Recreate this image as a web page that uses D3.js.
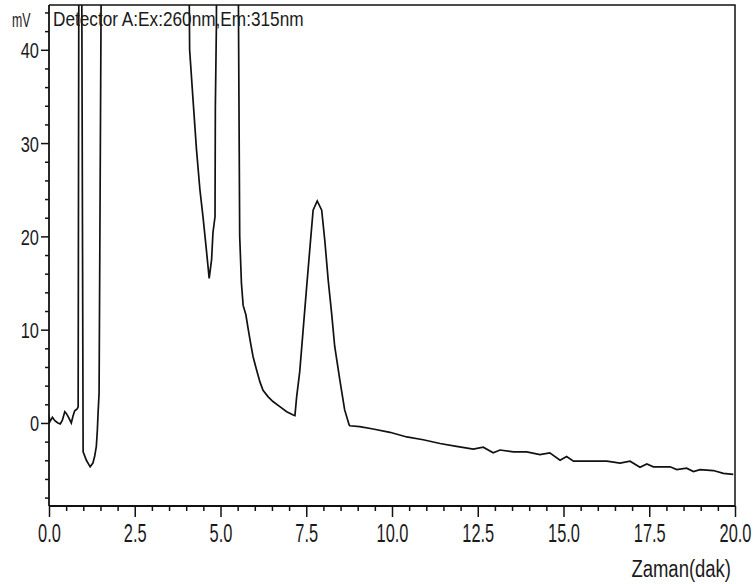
<!DOCTYPE html>
<html>
<head>
<meta charset="utf-8">
<script src="https://cdn.jsdelivr.net/npm/d3@7"></script>
<style>
  html, body { margin: 0; padding: 0; background: #fff; }
  svg text { font-family: "Liberation Sans", Arial, sans-serif; fill: #1a1a1a; }
</style>
</head>
<body>
<div id="chart"></div>
<script>
// chromatogram trace, time in minutes and signal in mV (60 = off scale)
const timeMin = [0, 0.02, 0.10, 0.17, 0.26, 0.33, 0.39, 0.46, 0.51, 0.57, 0.65, 0.70, 0.75, 0.82, 0.85,
  0.875, 0.945, 0.995, 1.09, 1.20, 1.28, 1.33, 1.38, 1.41, 1.43, 1.46, 1.54,
  4.06, 4.10, 4.20, 4.30, 4.40, 4.49, 4.59, 4.67, 4.74, 4.78, 4.84, 4.85, 4.88, 4.90,
  5.50, 5.54, 5.56, 5.61, 5.66, 5.74, 5.81, 5.88, 5.95, 6.05, 6.15, 6.24, 6.39, 6.53, 6.73, 6.93, 7.12, 7.17,
  7.22, 7.31, 7.41, 7.51, 7.61, 7.70, 7.82, 7.95, 8.04, 8.14, 8.24, 8.33, 8.48, 8.62, 8.75,
  8.77, 9.06, 9.45, 9.94, 10.43, 10.91, 11.40, 11.88, 12.37, 12.66, 12.95, 13.15, 13.54, 13.93,
  14.31, 14.60, 14.90, 15.09, 15.29, 15.77, 16.26, 16.65, 16.94, 17.23, 17.43, 17.62, 18.11,
  18.30, 18.59, 18.79, 18.98, 19.37, 19.66, 19.95];
const signalMv = [0.9, 0.1, 0.6, 0.25, 0, -0.1, 0.3, 1.2, 1.0, 0.6, 0, 0.75, 1.3, 1.5, 1.75,
  60, 60, -3.1, -4.0, -4.7, -4.3, -3.6, -2.5, -0.75, 1.0, 3.2, 60,
  60, 40, 34.6, 29.3, 25, 22.1, 18.5, 15.5, 17.5, 20.4, 22.1, 33.9, 42.5, 60,
  60, 33.2, 20, 15, 12.6, 11.6, 10.0, 8.5, 7.1, 5.7, 4.4, 3.5, 2.8, 2.3, 1.75, 1.2, 0.86, 0.8,
  2.8, 5.5, 10, 14.5, 18.9, 22.8, 23.8, 22.8, 19.6, 15.3, 11.75, 8.2, 4.6, 1.4, -0.2,
  -0.3, -0.4, -0.65, -1.0, -1.5, -1.8, -2.2, -2.5, -2.8, -2.6, -3.2, -2.9, -3.1, -3.1,
  -3.4, -3.2, -4.0, -3.6, -4.1, -4.1, -4.1, -4.3, -4.1, -4.75, -4.4, -4.7, -4.7,
  -5.0, -4.85, -5.2, -5.0, -5.1, -5.4, -5.5];

const xTicks = [0, 2.5, 5, 7.5, 10, 12.5, 15, 17.5, 20];
const yTicks = [0, 10, 20, 30, 40];
const xTitle = 'Zaman(dak)';
const yUnit = 'mV';
const detector = 'Detector A:Ex:260nm,Em:315nm';

const width = 753, height = 584;
const plotL = 49, plotR = 735, plotT = 5, plotB = 506;
const NARROW = 0.82; // Arial Narrow is ~82% of Arial width

const svg = d3.select('#chart').append('svg')
    .attr('width', width)
    .attr('height', height);

const x = d3.scaleLinear().domain([0, 20]).range([plotL, plotR]);
const y = d3.scaleLinear().domain([-8.9, 44.8]).range([plotB, plotT]);

// put text at (tx,ty) squeezed horizontally
function squeeze(sel, tx, ty, sx, sy) {
    sel.attr('x', 0).attr('y', 0).attr('dy', null)
        .attr('transform', `translate(${tx},${ty}) scale(${sx},${sy})`);
}

svg.append('defs').append('clipPath')
    .attr('id', 'plot-clip')
  .append('rect')
    .attr('x', plotL)
    .attr('y', plotT)
    .attr('width', plotR - plotL)
    .attr('height', plotB - plotT);

// frame (top + right)
svg.append('path')
    .attr('d', `M${plotL},${plotT}H${plotR}V${plotB}`)
    .attr('fill', 'none')
    .attr('stroke', '#111')
    .attr('stroke-width', 1.5);

// trace
const line = d3.line()
    .x((d, i) => x(timeMin[i]))
    .y(d => y(d));

svg.append('path')
    .datum(signalMv)
    .attr('clip-path', 'url(#plot-clip)')
    .attr('fill', 'none')
    .attr('stroke', '#111')
    .attr('stroke-width', 1.7)
    .attr('d', line);

// x axis: minor every 0.5, labelled every 2.5
const xMinor = d3.range(0, 20.001, 0.5).filter(v => xTicks.indexOf(v) < 0);
const xAxis = svg.append('g').attr('transform', `translate(0,${plotB})`);
xAxis.call(d3.axisBottom(x).tickValues(xMinor).tickSize(5).tickFormat(''))
    .call(g => g.select('.domain').remove());
xAxis.append('g')
    .call(d3.axisBottom(x).tickValues(xTicks).tickSize(11).tickFormat(d3.format('.1f')))
    .call(g => g.select('.domain').remove())
    .call(g => g.selectAll('text')
        .style('font-size', '20px')
        .attr('text-anchor', 'middle')
        .each(function () { squeeze(d3.select(this), 0, 36, NARROW, 1.3); }));
xAxis.selectAll('line').attr('stroke', '#111').attr('stroke-width', 1.5);
xAxis.append('line')
    .attr('x1', plotL).attr('x2', plotR)
    .attr('stroke', '#111').attr('stroke-width', 1.8);

// y axis: minor every 2, labelled every 10
const yMinor = d3.range(-8, 45, 2).filter(v => yTicks.indexOf(v) < 0);
const yAxis = svg.append('g').attr('transform', `translate(${plotL},0)`);
yAxis.call(d3.axisLeft(y).tickValues(yMinor).tickSize(4).tickFormat(''))
    .call(g => g.select('.domain').remove());
yAxis.append('g')
    .call(d3.axisLeft(y).tickValues(yTicks).tickSize(8).tickFormat(d3.format('d')))
    .call(g => g.select('.domain').remove())
    .call(g => g.selectAll('text')
        .style('font-size', '20px')
        .attr('text-anchor', 'end')
        .each(function () { squeeze(d3.select(this), -10, 8, NARROW, 1.12); }));
yAxis.selectAll('line').attr('stroke', '#111').attr('stroke-width', 1.5);
yAxis.append('line')
    .attr('y1', plotT).attr('y2', plotB)
    .attr('stroke', '#111').attr('stroke-width', 1.8);

svg.append('text')
    .style('font-size', '19px')
    .call(squeeze, 12, 27, 0.65, 1.05)
    .text(yUnit);

svg.append('text')
    .style('font-size', '21px')
    .call(squeeze, 53, 26, NARROW, 1)
    .text(detector);

svg.append('text')
    .attr('text-anchor', 'end')
    .style('font-size', '21px')
    .call(squeeze, 731, 577, 0.88, 1.1)
    .text(xTitle);
</script>
</body>
</html>
